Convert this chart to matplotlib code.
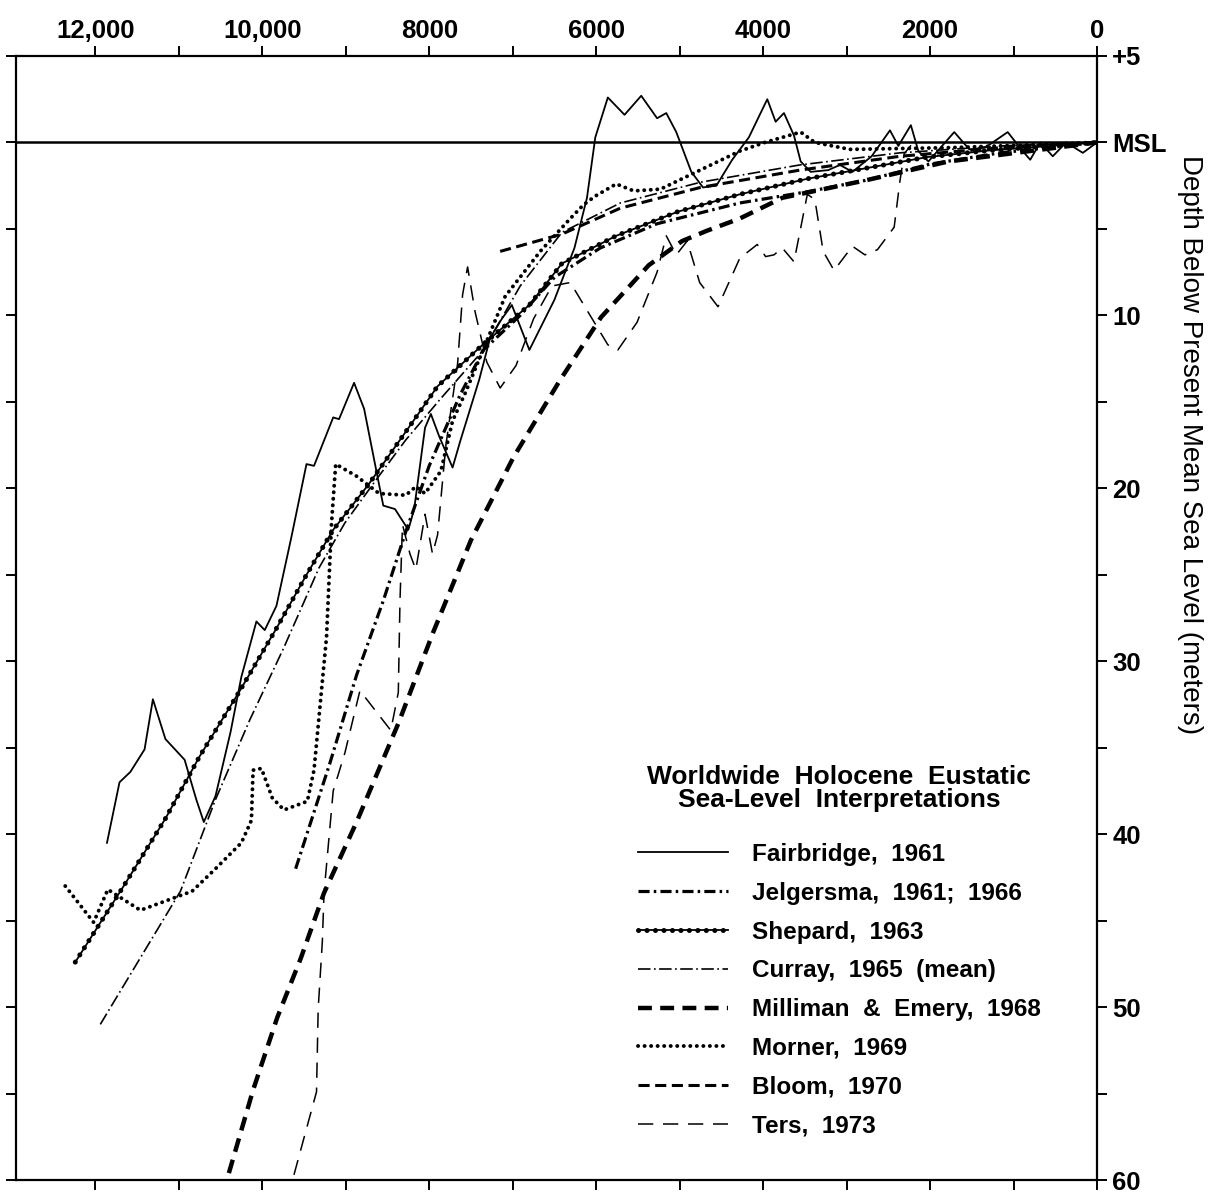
import matplotlib
matplotlib.use("Agg")
import matplotlib.pyplot as plt
from matplotlib import font_manager as fm
from matplotlib.legend_handler import HandlerTuple

plt.rcParams["font.family"] = ["Liberation Sans", "DejaVu Sans"]
plt.rcParams["lines.scale_dashes"] = False

_names = {f.name for f in fm.fontManager.ttflist}
HAVE_NARROW = "Liberation Sans Narrow" in _names

# ---------------- axis ticks / labels ----------------
year_ticks = list(range(0, 13000, 1000))
year_labels = ["0", "", "2000", "", "4000", "", "6000", "", "8000", "", "10,000", "", "12,000"]
depth_ticks = [-5, 0, 10, 20, 30, 40, 50, 60]
depth_labels = ["+5", "MSL", "10", "20", "30", "40", "50", "60"]
depth_minor = [5, 15, 25, 35, 45, 55]

# ---------------- series (years B.P., depth in m below MSL) ----------------
fair_yr = [11860, 11710, 11580, 11410, 11310, 11160, 10930, 10790, 10700, 10560, 10380, 10250,
           10070, 9970, 9830, 9650, 9470, 9380, 9150, 9080, 8900, 8780, 8600, 8550, 8410, 8250,
           8180, 8050, 7980, 7880, 7720, 7630, 7400, 7270, 7130, 7010, 6800, 6500, 6260, 6110,
           6010, 5860, 5660, 5460, 5270, 5160, 5040, 4860, 4720, 4560, 4370, 4170, 3950, 3850,
           3750, 3630, 3550, 3430, 3220, 3080, 2930, 2700, 2480, 2380, 2230, 2140, 2020, 1710,
           1530, 1340, 1070, 890, 800, 680, 530, 370, 170, 0]
fair_m = [40.5, 37.0, 36.4, 35.1, 32.2, 34.5, 35.7, 38.0, 39.3, 37.8, 34.1, 30.9,
          27.7, 28.2, 26.8, 22.8, 18.6, 18.7, 15.9, 16.0, 13.9, 15.4, 19.8, 21.0, 21.2, 22.4,
          21.2, 16.5, 15.7, 17.0, 18.8, 17.3, 13.7, 11.3, 10.2, 9.4, 12.0, 9.1, 6.1, 3.2,
          -0.3, -2.6, -1.6, -2.7, -1.4, -1.7, -0.6, 1.7, 2.6, 2.5, 1.0, -0.3, -2.5, -1.2,
          -1.7, -0.4, 1.1, 1.7, 1.6, 1.3, 1.7, 0.8, -0.7, 0.2, -1.0, 0.5, 1.1, -0.6,
          0.4, 0.3, -0.6, 0.5, 1.0, 0.0, 0.8, 0.0, 0.6, 0.0]

jelg_yr = [9600, 9190, 8870, 8550, 8280, 8000, 7630, 7350, 6910, 6500, 5950, 5270, 4280,
           3470, 2780, 2000, 1160, 0]
jelg_m = [42.0, 35.9, 30.8, 26.5, 22.5, 18.7, 14.6, 12.0, 10.0, 7.8, 6.1, 4.7, 3.5,
          2.85, 2.2, 1.25, 0.6, 0.0]

shep_yr = [12240, 11660, 11160, 10750, 10280, 9830, 9470, 9150, 8730, 8320, 7900, 7360,
           6800, 6410, 5760, 5020, 4280, 3470, 2780, 2040, 1290, 0]
shep_m = [47.4, 43.0, 39.1, 35.5, 31.8, 28.1, 25.0, 22.4, 19.8, 17.0, 14.1, 11.7,
          9.4, 7.0, 5.4, 4.0, 3.0, 2.1, 1.5, 0.85, 0.46, 0.0]

curr_yr = [11940, 10980, 10560, 10150, 9740, 9320, 9010, 8650, 8280, 7860, 7350, 6910,
           6410, 5710, 4750, 3560, 2360, 1160, 0]
curr_m = [51.0, 43.3, 38.0, 33.4, 29.2, 24.6, 22.0, 19.6, 17.2, 14.8, 12.0, 8.3,
          5.2, 3.5, 2.3, 1.3, 0.6, 0.2, 0.0]

mill_yr = [10400, 10110, 9820, 9540, 9260, 8870, 8370, 7950, 7500, 6990, 6440, 5940,
           5370, 4970, 4670, 4280, 3770, 2780, 1780, 0]
mill_m = [59.6, 54.8, 50.6, 47.2, 43.4, 39.3, 33.6, 28.3, 23.0, 18.2, 13.8, 10.1,
          7.1, 5.7, 5.1, 4.4, 3.2, 2.2, 1.1, 0.0]

morn_yr = [12360, 12020, 11850, 11460, 10840, 10560, 10250, 10130, 10110, 10010, 9880, 9740,
           9460, 9380, 9230, 9170, 9120, 8870, 8600, 8280, 8160, 8050, 7860, 7720, 7560,
           7090, 6670, 6310, 6150, 6010, 5760, 5550, 5230, 4280, 3980, 3550, 3380, 2960,
           1750, 0]
morn_m = [43.0, 45.1, 43.2, 44.4, 43.3, 42.0, 40.5, 39.2, 36.3, 36.2, 37.9, 38.6,
          38.1, 36.3, 28.6, 22.0, 18.6, 19.3, 20.3, 20.4, 19.9, 20.3, 19.0, 16.1, 14.4,
          8.9, 6.3, 4.4, 3.6, 3.1, 2.4, 2.8, 2.7, 0.5, 0.0, -0.6, 0.0, 0.4,
          0.3, 0.0]

bloom_yr = [7150, 6410, 5710, 4750, 3560, 2360, 1160, 0]
bloom_m = [6.3, 5.3, 3.8, 2.6, 1.6, 0.8, 0.3, 0.0]

ters_yr = [9620, 9350, 9330, 9280, 9260, 9150, 9010, 8830, 8460, 8370, 8350, 8320, 8230,
           8160, 8050, 7960, 7900, 7800, 7660, 7600, 7540, 7450, 7310, 7150, 6960, 6750,
           6530, 6310, 6110, 5860, 5740, 5510, 5270, 5160, 5040, 4910, 4760, 4540, 4280,
           4070, 3970, 3870, 3770, 3630, 3470, 3380, 3280, 3150, 2930, 2780, 2630, 2430,
           2360, 2310, 2200]
ters_m = [59.7, 54.9, 50.1, 46.2, 43.4, 37.5, 35.3, 31.7, 34.0, 31.8, 26.5, 22.1, 23.8,
          24.7, 21.5, 23.8, 22.7, 17.5, 12.8, 8.8, 7.2, 9.8, 12.7, 14.2, 12.9, 10.2,
          8.3, 8.1, 9.7, 11.7, 12.0, 10.4, 7.5, 5.4, 6.5, 5.7, 8.1, 9.5, 6.7,
          5.9, 6.6, 6.5, 6.1, 6.9, 3.0, 3.3, 6.3, 7.4, 6.0, 6.5, 6.2, 4.9,
          2.2, 0.65, 0.0]

legend_names = ["Fairbridge,  1961", "Jelgersma,  1961;  1966", "Shepard,  1963",
                "Curray,  1965  (mean)", "Milliman  &  Emery,  1968", "Morner,  1969",
                "Bloom,  1970", "Ters,  1973"]
title_text = "Worldwide  Holocene  Eustatic\nSea-Level  Interpretations"
ylabel_text = "Depth Below Present Mean Sea Level (meters)"

# ---------------- figure ----------------
W, H = 1226, 1195
fig = plt.figure(figsize=(W / 100, H / 100), dpi=100)
ax = fig.add_axes([16 / W, 1 - 1180 / H, (1097 - 16) / W, (1180 - 56) / H])
ax.set_xlim(12950, 0)
ax.set_ylim(60, -5)

k = "black"
ax.axhline(0, color=k, lw=1.8, zorder=1)

l_fair, = ax.plot(fair_yr, fair_m, color=k, lw=1.3)
l_jelg, = ax.plot(jelg_yr, jelg_m, color=k, lw=2.3, dashes=(8, 3, 1.8, 3))
l_shep_a, = ax.plot(shep_yr, shep_m, color=k, lw=1.3)
l_shep_b, = ax.plot(shep_yr, shep_m, color=k, lw=3.6, dashes=(0.1, 6.0),
                    dash_capstyle="round")
l_curr, = ax.plot(curr_yr, curr_m, color=k, lw=1.2, dashes=(9, 2.5, 1.2, 2.5))
l_mill, = ax.plot(mill_yr, mill_m, color=k, lw=3.2, dashes=(10, 6))
l_morn, = ax.plot(morn_yr, morn_m, color=k, lw=2.8, dashes=(0.1, 4.6),
                  dash_capstyle="round")
l_bloom, = ax.plot(bloom_yr, bloom_m, color=k, lw=2.2, dashes=(8, 4))
l_ters, = ax.plot(ters_yr, ters_m, color=k, lw=1.1, dashes=(11, 7))

# ---------------- axes styling ----------------
for s in ax.spines.values():
    s.set_linewidth(1.6)

ax.set_xticks(year_ticks)
ax.set_xticklabels(year_labels)
ax.tick_params(axis="x", which="both", direction="out", length=7, width=1.4,
               top=True, bottom=True, labeltop=True, labelbottom=False, pad=2)
ax.set_yticks(depth_ticks)
ax.set_yticklabels(depth_labels)
ax.set_yticks(depth_minor, minor=True)
ax.tick_params(axis="y", which="both", direction="out", length=7, width=1.4,
               left=True, right=True, labelleft=False, labelright=True, pad=4)
for t in ax.get_xticklabels() + ax.get_yticklabels():
    t.set_fontsize(18.5)
    t.set_fontweight("bold")

if HAVE_NARROW:
    fig.text(1190 / W, 1 - 445 / H, ylabel_text, rotation=-90, ha="center", va="center",
             fontsize=24, family=["Liberation Sans Narrow", "DejaVu Sans"])
else:
    fig.text(1190 / W, 1 - 445 / H, ylabel_text, rotation=-90, ha="center", va="center",
             fontsize=20)

# ---------------- legend ----------------
fig.text(839 / W, 1 - 788.5 / H, title_text, ha="center", va="center", fontsize=19,
         fontweight="bold", linespacing=0.97)
handles = [l_fair, l_jelg, (l_shep_a, l_shep_b), l_curr, l_mill, l_morn, l_bloom, l_ters]
leg = fig.legend(handles, legend_names, loc="upper left",
                 bbox_to_anchor=(638 / W, 1 - 843 / H), frameon=False,
                 borderpad=0, borderaxespad=0, handlelength=3.7, handletextpad=1.0,
                 labelspacing=0.65, prop={"size": 17.5, "weight": "bold"},
                 handler_map={tuple: HandlerTuple(ndivide=1)})

fig.savefig("out.png", dpi=100)
